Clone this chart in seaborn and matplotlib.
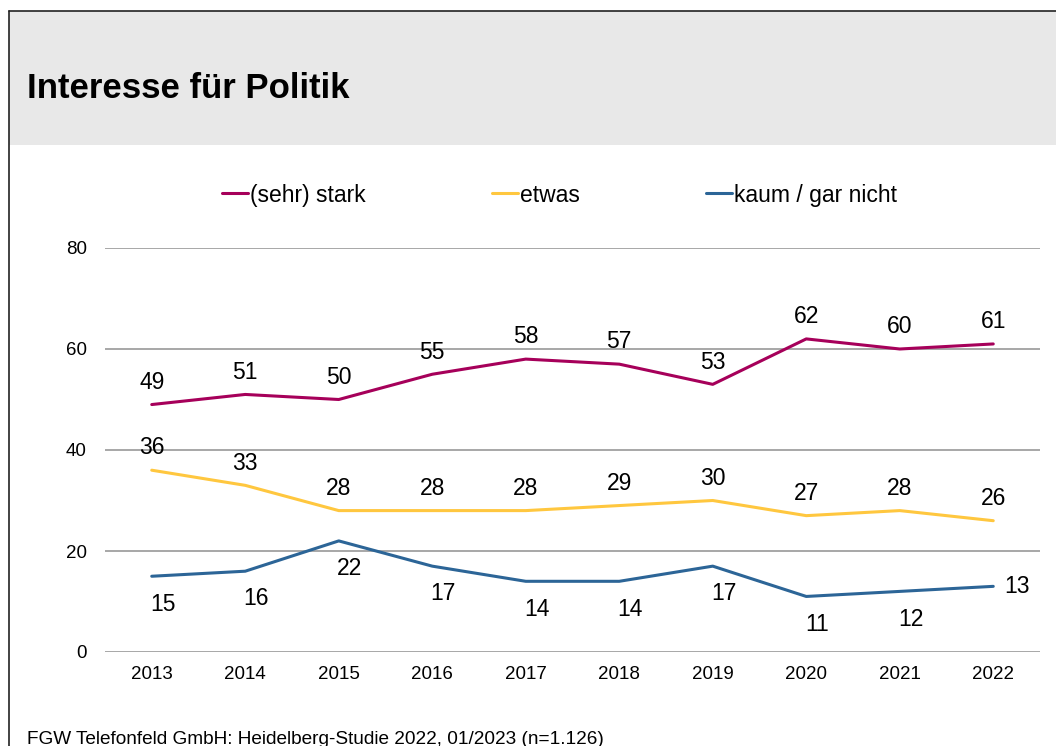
import matplotlib.pyplot as plt
import pandas as pd
import seaborn as sns
from matplotlib.patches import Rectangle

years = [2013, 2014, 2015, 2016, 2017, 2018, 2019, 2020, 2021, 2022]
stark = [49, 51, 50, 55, 58, 57, 53, 62, 60, 61]
etwas = [36, 33, 28, 28, 28, 29, 30, 27, 28, 26]
kaum = [15, 16, 22, 17, 14, 14, 17, 11, 12, 13]
series_names = ["(sehr) stark", "etwas", "kaum / gar nicht"]
colors = ["#A6005A", "#FFC73F", "#2C6597"]

df = pd.DataFrame({
    "Jahr": years * 3,
    "Wert": stark + etwas + kaum,
    "Gruppe": [n for n in series_names for _ in years],
})

sns.set_theme(style="white")
plt.rcParams["font.family"] = ["Liberation Sans", "DejaVu Sans"]
plt.rcParams["text.color"] = "black"

fig = plt.figure(figsize=(10.56, 7.46), dpi=100)

# header banner + frame lines
fig.patches.append(Rectangle((9 / 1056, 1 - 145 / 746), 1.0, 134 / 746,
                             transform=fig.transFigure, facecolor="#E8E8E8",
                             edgecolor="none", zorder=0))
fig.add_artist(plt.Line2D([9 / 1056, 9 / 1056], [0, 1 - 11 / 746],
                          transform=fig.transFigure, color="#222222", lw=1.2))
fig.add_artist(plt.Line2D([9 / 1056, 1], [1 - 11 / 746, 1 - 11 / 746],
                          transform=fig.transFigure, color="#222222", lw=1.2))
fig.text(27 / 1056, 1 - 88 / 746, "Interesse für Politik", fontsize=25,
         fontweight="bold", va="center", ha="left", color="black")
fig.text(27 / 1056, 1 - 739 / 746,
         "FGW Telefonfeld GmbH: Heidelberg-Studie 2022, 01/2023 (n=1.126)",
         fontsize=13.7, va="center", ha="left", color="black")

ax = fig.add_axes([105 / 1056, 1 - 652 / 746, 935 / 1056, 404 / 746])
sns.lineplot(data=df, x="Jahr", y="Wert", hue="Gruppe", palette=colors,
             linewidth=2.2, ax=ax, legend=True)

ax.set_xlim(2012.5, 2022.5)
ax.set_ylim(0, 80)
ax.set_yticks([0, 20, 40, 60, 80])
ax.set_xticks(years)
ax.set_xlabel("")
ax.set_ylabel("")
ax.grid(axis="y", color="#A0A0A0", linewidth=1.3)
ax.set_axisbelow(True)
for s in ax.spines.values():
    s.set_visible(False)
ax.tick_params(axis="both", length=0, labelsize=13.5, colors="black")
ax.tick_params(axis="y", pad=13)
ax.tick_params(axis="x", pad=10)

# data labels
for x, y in zip(years, stark):
    ax.annotate(str(y), (x, y), xytext=(0, 16), textcoords="offset points",
                fontsize=16.5, ha="center", va="center", color="black")
for x, y in zip(years, etwas):
    ax.annotate(str(y), (x, y), xytext=(0, 16), textcoords="offset points",
                fontsize=16.5, ha="center", va="center", color="black")
for i, (x, y) in enumerate(zip(years, kaum)):
    off = (17, 0) if i == len(years) - 1 else (8, -20)
    ax.annotate(str(y), (x, y), xytext=off, textcoords="offset points",
                fontsize=16.5, ha="center", va="center", color="black")

handles, labels = ax.get_legend_handles_labels()
ax.legend(handles, labels, loc="center",
          bbox_to_anchor=(0.486, (652 - 195) / 404),
          ncol=3, frameon=False, fontsize=16.5, handlelength=1.13,
          handletextpad=0.1, columnspacing=5.5)

fig.savefig("out.png", dpi=100)
